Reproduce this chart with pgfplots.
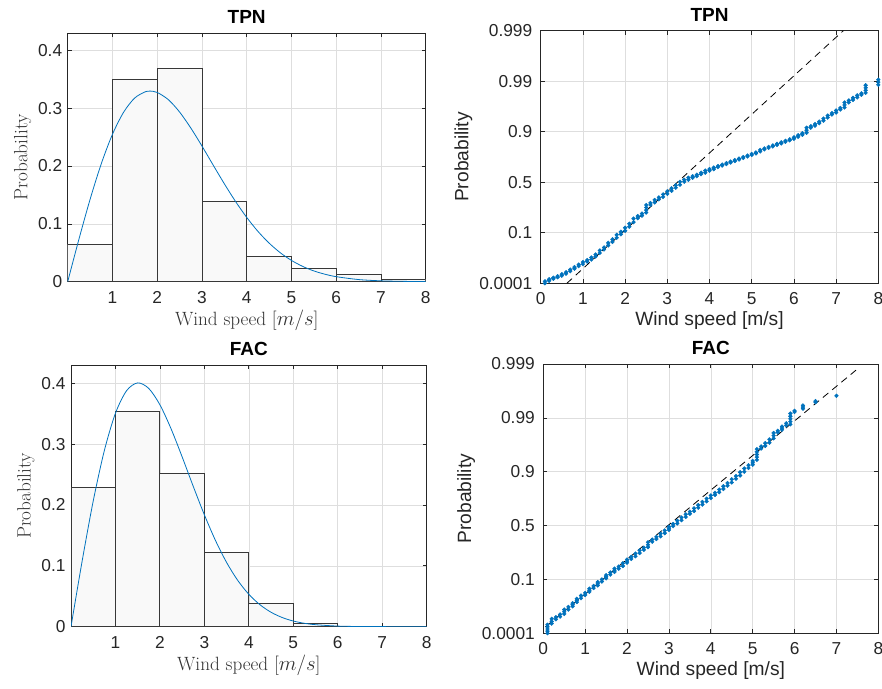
\documentclass[border=0pt]{standalone}
\usepackage{fontspec}
\setsansfont{Liberation Sans}
\usepackage{pgfplots}
\pgfplotsset{compat=1.18}

\definecolor{mblue}{rgb}{0,0.447,0.741}
\definecolor{axgray}{gray}{0.15}
\definecolor{edgegray}{gray}{0.22}
\definecolor{gridgray}{gray}{0.87}
\definecolor{barfill}{gray}{0.975}

\pgfplotsset{
  mlbase/.style={
    scale only axis,
    anchor=south west,
    axis line style={axgray, line width=0.7pt},
    tick style={axgray, line width=0.7pt},
    major tick length=4pt,
    tick align=inside,
    xtick pos=both, ytick pos=both,
    xticklabel pos=lower, yticklabel pos=left,
    grid=major,
    major grid style={gridgray, line width=0.6pt},
    tick label style={font=\sffamily\fontsize{17.3}{20}\selectfont, text=axgray},
    /pgf/number format/assume math mode=true,
    xticklabel style={yshift=-6pt},
    title style={font=\sffamily\bfseries\fontsize{19}{22}\selectfont},
    xmin=0, xmax=8,
  },
  histax/.style={
    mlbase, ymin=0, ymax=0.43,
    xtick={1,2,3,4,5,6,7,8}, ytick={0,0.1,0.2,0.3,0.4},
    label style={font=\fontsize{19.2}{22}\selectfont, text=black!80},
    yticklabel style={xshift=-2pt},
    xlabel={Wind speed [$m/s$]}, ylabel={Probability},
  },
  probax/.style={
    mlbase, ymin=0, ymax=5,
    xtick={0,1,2,3,4,5,6,7,8}, ytick={0,1,2,3,4,5},
    yticklabels={0.0001,0.1,0.5,0.9,0.99,0.999},
    label style={font=\sffamily\fontsize{19.2}{22}\selectfont, text=axgray},
    yticklabel style={xshift=-5pt},
    xlabel={Wind speed [m/s]}, ylabel={Probability},
  },
  barstyle/.style={ybar interval, fill=barfill, draw=edgegray, line width=0.9pt},
  fitstyle/.style={mblue, line width=0.8pt, smooth, no marks},
  ptstyle/.style={only marks, mark=*, mark size=1.9pt, mblue, mark options={draw=mblue, fill=mblue}},
  refstyle/.style={black, line width=0.8pt, dash pattern=on 7pt off 5pt, no marks},
}

\begin{document}
\begin{tikzpicture}
\path[use as bounding box] (0,0) rectangle (882pt,688pt);

% ---------- TPN histogram with fitted density ----------
\begin{axis}[histax, at={(67.7pt,406.3pt)}, width=358pt, height=248.7pt, title={TPN}]
\addplot[barstyle] coordinates {
  (0,0.0646) (1,0.349) (2,0.369) (3,0.138) (4,0.0438)
  (5,0.0225) (6,0.0127) (7,0.004) (8,0.004)};
\addplot[fitstyle] coordinates {
  (0,0) (0.25,0.0732) (0.5,0.1423) (0.75,0.2039) (1,0.2548) (1.25,0.2931)
  (1.5,0.3178) (1.75,0.3289) (1.84,0.3296) (2,0.3272) (2.25,0.3147)
  (2.5,0.2934) (2.75,0.2658) (3,0.2346) (3.25,0.2017) (3.5,0.1693)
  (3.75,0.1388) (4,0.1112) (4.25,0.0871) (4.5,0.0668) (4.75,0.0501)
  (5,0.0368) (5.25,0.0265) (5.5,0.0186) (5.75,0.0129) (6,0.0087)
  (6.5,0.0037) (7,0.0015) (7.5,0.0006) (8,0.0002)};
\end{axis}

% ---------- TPN probability plot ----------
\begin{axis}[probax, at={(540.7pt,404.7pt)}, width=337.6pt, height=252.6pt, title={TPN}]
\addplot[refstyle] coordinates {(0.62,0) (7.17,5)};
\addplot[ptstyle] table {
x y
0.1 0.00
0.1 0.04
0.2 0.05
0.2 0.08
0.3 0.09
0.3 0.11
0.4 0.12
0.4 0.14
0.5 0.15
0.5 0.18
0.6 0.19
0.6 0.22
0.7 0.24
0.7 0.27
0.8 0.29
0.8 0.32
0.9 0.34
0.9 0.37
1.0 0.38
1.0 0.42
1.1 0.43
1.1 0.46
1.2 0.47
1.2 0.51
1.3 0.53
1.3 0.57
1.4 0.60
1.4 0.65
1.5 0.67
1.5 0.71
1.6 0.75
1.6 0.80
1.7 0.82
1.7 0.87
1.8 0.90
1.8 0.96
1.9 0.97
1.9 1.02
2.0 1.04
2.0 1.10
2.1 1.12
2.1 1.18
2.2 1.21
2.2 1.28
2.3 1.29
2.3 1.33
2.4 1.34
2.4 1.38
2.5 1.40
2.5 1.45
2.5 1.50
2.5 1.55
2.6 1.55
2.6 1.59
2.7 1.60
2.7 1.65
2.8 1.66
2.8 1.70
2.9 1.71
2.9 1.76
3.0 1.77
3.0 1.82
3.1 1.83
3.1 1.88
3.2 1.89
3.2 1.94
3.3 1.95
3.3 2.01
3.4 2.01
3.4 2.05
3.5 2.05
3.5 2.09
3.6 2.09
3.6 2.12
3.7 2.12
3.7 2.15
3.8 2.16
3.8 2.19
3.9 2.19
3.9 2.23
4.0 2.23
4.0 2.26
4.1 2.26
4.1 2.29
4.2 2.30
4.2 2.32
4.3 2.33
4.3 2.35
4.4 2.36
4.4 2.38
4.5 2.39
4.5 2.41
4.6 2.42
4.6 2.44
4.7 2.45
4.7 2.47
4.8 2.48
4.8 2.50
4.9 2.51
4.9 2.53
5.0 2.54
5.0 2.56
5.1 2.57
5.1 2.59
5.2 2.61
5.2 2.64
5.3 2.65
5.3 2.67
5.4 2.68
5.4 2.70
5.5 2.71
5.5 2.73
5.6 2.74
5.6 2.76
5.7 2.77
5.7 2.79
5.8 2.80
5.8 2.82
5.9 2.83
5.9 2.85
6.0 2.86
6.0 2.89
6.1 2.90
6.1 2.93
6.2 2.94
6.2 2.97
6.3 2.98
6.3 3.03
6.3 3.08
6.4 3.08
6.4 3.11
6.5 3.12
6.5 3.15
6.6 3.17
6.6 3.20
6.7 3.22
6.7 3.26
6.8 3.28
6.8 3.32
6.9 3.34
6.9 3.37
7.0 3.38
7.0 3.42
7.1 3.44
7.1 3.47
7.2 3.48
7.2 3.53
7.2 3.58
7.3 3.58
7.3 3.62
7.4 3.63
7.4 3.67
7.5 3.68
7.5 3.72
7.6 3.73
7.6 3.76
7.7 3.77
7.7 3.82
7.7 3.87
7.7 3.92
8.0 3.93
8.0 3.98
8.0 4.03
};
\end{axis}

% ---------- FAC histogram with fitted density ----------
\begin{axis}[histax, at={(71pt,61.3pt)}, width=355.7pt, height=261.7pt, title={FAC}]
\addplot[barstyle] coordinates {
  (0,0.2283) (1,0.3538) (2,0.2525) (3,0.1221) (4,0.0385)
  (5,0.005) (6,0.0005) (7,0) (8,0)};
\addplot[fitstyle] coordinates {
  (0,0) (0.25,0.1076) (0.5,0.2066) (0.75,0.2894) (1,0.3508) (1.25,0.3878)
  (1.5,0.4006) (1.75,0.3914) (2,0.3646) (2.25,0.3253) (2.5,0.2790)
  (2.75,0.2305) (3,0.1838) (3.25,0.1416) (3.5,0.1055) (3.75,0.0761)
  (4,0.0532) (4.25,0.0361) (4.5,0.0237) (4.75,0.0151) (5,0.0093)
  (5.25,0.0056) (5.5,0.0033) (6,0.0010) (6.5,0.0003) (7,0.0001) (8,0)};
\end{axis}

% ---------- FAC probability plot ----------
\begin{axis}[probax, at={(543.3pt,54.7pt)}, width=335pt, height=269.3pt, title={FAC}]
\addplot[refstyle] coordinates {(0.05,0.12) (7.52,4.92)};
\addplot[ptstyle] table {
x y
0.1 0.00
0.1 0.04
0.1 0.08
0.1 0.12
0.1 0.16
0.2 0.18
0.2 0.22
0.2 0.27
0.3 0.26
0.3 0.30
0.4 0.31
0.4 0.35
0.5 0.36
0.5 0.40
0.5 0.44
0.6 0.44
0.6 0.49
0.7 0.50
0.7 0.53
0.7 0.56
0.8 0.58
0.8 0.61
0.8 0.64
0.9 0.65
0.9 0.70
1.0 0.71
1.0 0.75
1.1 0.77
1.1 0.80
1.1 0.83
1.2 0.84
1.2 0.88
1.3 0.89
1.3 0.92
1.3 0.95
1.4 0.96
1.4 1.00
1.5 1.02
1.5 1.05
1.5 1.08
1.6 1.09
1.6 1.13
1.7 1.14
1.7 1.17
1.7 1.20
1.8 1.20
1.8 1.24
1.9 1.25
1.9 1.30
2.0 1.31
2.0 1.34
2.0 1.37
2.1 1.38
2.1 1.42
2.2 1.43
2.2 1.48
2.3 1.49
2.3 1.54
2.4 1.55
2.4 1.59
2.5 1.60
2.5 1.645
2.5 1.69
2.6 1.70
2.6 1.74
2.7 1.75
2.7 1.79
2.8 1.80
2.8 1.85
2.9 1.86
2.9 1.91
3.0 1.92
3.0 1.95
3.0 1.98
3.1 1.99
3.1 2.03
3.2 2.04
3.2 2.09
3.3 2.10
3.3 2.15
3.4 2.16
3.4 2.21
3.5 2.22
3.5 2.26
3.6 2.27
3.6 2.32
3.7 2.33
3.7 2.38
3.8 2.39
3.8 2.44
3.9 2.45
3.9 2.50
4.0 2.51
4.0 2.56
4.1 2.57
4.1 2.61
4.2 2.62
4.2 2.67
4.3 2.68
4.3 2.73
4.4 2.74
4.4 2.79
4.5 2.80
4.5 2.86
4.6 2.87
4.6 2.92
4.7 2.93
4.7 2.99
4.8 3.00
4.8 3.06
4.9 3.07
4.9 3.12
5.0 3.13
5.0 3.165
5.0 3.20
5.1 3.22
5.1 3.27
5.1 3.32
5.1 3.37
5.1 3.42
5.2 3.43
5.2 3.47
5.3 3.48
5.3 3.53
5.4 3.54
5.4 3.60
5.5 3.62
5.5 3.67
5.5 3.72
5.6 3.73
5.6 3.76
5.7 3.78
5.7 3.81
5.7 3.84
5.8 3.86
5.8 3.90
5.9 3.88
5.9 3.93
5.9 3.98
5.9 4.03
5.9 4.08
6.0 4.11
6.0 4.13
6.2 4.17
6.2 4.20
6.2 4.23
6.5 4.29
6.5 4.31
7.0 4.41
};
\end{axis}
\end{tikzpicture}
\end{document}
